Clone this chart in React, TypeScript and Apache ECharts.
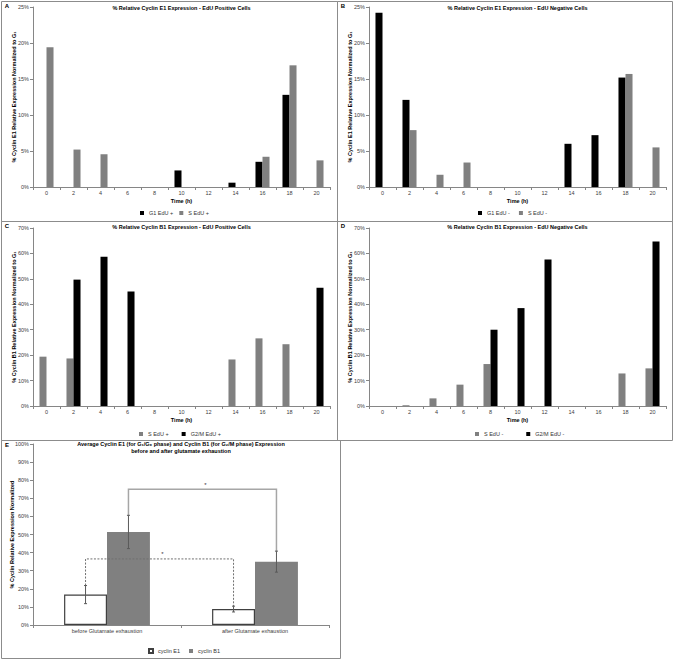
import React, { useEffect, useRef } from 'react';
import * as echarts from 'echarts';

const FONT = '"Liberation Sans", Arial, sans-serif';
const BLACK = '#000000';
const GRAY = '#808080';
const AXIS = '#868686';

// Time points (h)
const times = ['0', '2', '4', '6', '8', '10', '12', '14', '16', '18', '20'];

// Panel A – Cyclin E1, EdU positive (%)
const aG1 = [null, null, null, null, null, 2.3, null, 0.6, 3.5, 12.8, null];
const aS = [19.4, 5.2, 4.55, null, null, null, null, null, 4.2, 16.9, 3.7];
// Panel B – Cyclin E1, EdU negative (%)
const bG1 = [24.2, 12.1, null, null, null, null, null, 6.0, 7.2, 15.2, null];
const bS = [null, 7.9, 1.7, 3.4, null, null, null, null, null, 15.7, 5.5];
// Panel C – Cyclin B1, EdU positive (%)
const cS = [19.4, 18.7, null, null, null, null, null, 18.3, 26.6, 24.3, null];
const cG2M = [null, 49.7, 58.7, 45.0, null, null, null, null, null, null, 46.5];
// Panel D – Cyclin B1, EdU negative (%)
const dS = [null, 0.3, 3.0, 8.4, 16.5, null, null, null, null, 12.8, 14.8];
const dG2M = [null, null, null, null, 30.0, 38.5, 57.6, null, null, null, 64.7];

// Panel E – averages before / after glutamate exhaustion (%)
const eCats = ['before Glutamate exhaustion', 'after Glutamate exhaustion'];
const e1Mean = [16.8, 8.8];
const e1Err = [5.0, 1.6];
const b1Mean = [51.4, 35.0];
const b1Err = [9.2, 5.8];
// significance bracket heights (%)
const b1BracketTop = 75;
const e1BracketTop = 36.5;

const E_GAP = 0.42;

export default function App() {
  const ref = useRef<HTMLDivElement>(null);

  useEffect(() => {
    if (!ref.current) return;
    const chart = echarts.init(ref.current, null, { renderer: 'svg' });

    const grids = [
      { left: 33, top: 7, width: 297, height: 180 },
      { left: 369, top: 7, width: 297, height: 180 },
      { left: 33, top: 228, width: 297, height: 178 },
      { left: 369, top: 228, width: 297, height: 178 },
      { left: 33, top: 444, width: 296, height: 181 },
    ];

    const xAx = (gi: number, data: string[], name: string) => ({
      type: 'category',
      gridIndex: gi,
      data,
      name,
      nameLocation: 'middle',
      nameGap: 11,
      nameMoveOverlap: false,
      nameTextStyle: { fontFamily: FONT, fontSize: 5.5, fontWeight: 'bold', color: '#000' },
      axisLine: { show: true, lineStyle: { color: AXIS, width: 1 } },
      axisTick: { show: true, length: 3, alignWithLabel: false, lineStyle: { color: AXIS } },
      axisLabel: { fontFamily: FONT, fontSize: 5.5, color: '#404040', margin: 3, interval: 0 },
      splitLine: { show: false },
    });

    const yAx = (gi: number, max: number, interval: number, name: string, gap: number) => ({
      type: 'value',
      gridIndex: gi,
      min: 0,
      max,
      interval,
      name,
      nameLocation: 'middle',
      nameGap: gap,
      nameMoveOverlap: false,
      nameTextStyle: { fontFamily: FONT, fontSize: 5.5, fontWeight: 'bold', color: '#000' },
      axisLine: { show: true, lineStyle: { color: AXIS, width: 1 } },
      axisTick: { show: true, length: 3, lineStyle: { color: AXIS } },
      axisLabel: { fontFamily: FONT, fontSize: 5.5, color: '#404040', margin: 4, formatter: '{value}%' },
      splitLine: { show: false },
    });

    const bar = (name: string, gi: number, data: (number | null)[], color: string) => ({
      type: 'bar',
      name,
      xAxisIndex: gi,
      yAxisIndex: gi,
      data,
      barGap: '0%',
      barCategoryGap: '48%',
      itemStyle: { color },
      silent: true,
    });

    const titleAt = (x: number, y: number, text: string) => ({
      text,
      left: x,
      top: y,
      textAlign: 'center',
      padding: 0,
      textStyle: { fontFamily: FONT, fontSize: 5.5, fontWeight: 'bold', color: '#000', lineHeight: 7 },
    });

    const legendAt = (x: number, y: number, data: string[], gap: number) => ({
      left: x,
      top: y,
      data,
      padding: 0,
      itemGap: gap,
      itemWidth: 4,
      itemHeight: 4,
      icon: 'rect',
      selectedMode: false,
      textStyle: { fontFamily: FONT, fontSize: 5.5, color: '#333' },
    });

    const errorData = [
      [0, e1Mean[0], e1Err[0], -1],
      [1, e1Mean[1], e1Err[1], -1],
      [0, b1Mean[0], b1Err[0], 1],
      [1, b1Mean[1], b1Err[1], 1],
    ];

    const errRender = (params: any, api: any) => {
      const cat = api.value(0);
      const mean = api.value(1);
      const err = api.value(2);
      const side = api.value(3);
      const bw = (api.size([1, 0])[0] * (1 - E_GAP)) / 2;
      const cx = api.coord([cat, mean])[0] + (side * bw) / 2;
      const yHi = api.coord([cat, mean + err])[1];
      const yLo = api.coord([cat, mean - err])[1];
      const st = { stroke: '#595959', lineWidth: 1 };
      return {
        type: 'group',
        children: [
          { type: 'line', shape: { x1: cx, y1: yHi, x2: cx, y2: yLo }, style: st },
          { type: 'line', shape: { x1: cx - 1.5, y1: yHi, x2: cx + 1.5, y2: yHi }, style: st },
          { type: 'line', shape: { x1: cx - 1.5, y1: yLo, x2: cx + 1.5, y2: yLo }, style: st },
        ],
      };
    };

    const bracketRender = (stroke: string, width: number, dash: number[] | null) => (params: any, api: any) => {
      const lc = api.value(0), ls = api.value(1), ly = api.value(2);
      const rc = api.value(3), rs = api.value(4), ry = api.value(5);
      const ty = api.value(6);
      const bw = (api.size([1, 0])[0] * (1 - E_GAP)) / 2;
      const xl = api.coord([lc, ly])[0] + (ls * bw) / 2;
      const xr = api.coord([rc, ry])[0] + (rs * bw) / 2;
      const yl = api.coord([lc, ly])[1];
      const yr = api.coord([rc, ry])[1];
      const yt = api.coord([lc, ty])[1];
      return {
        type: 'group',
        children: [
          {
            type: 'polyline',
            shape: { points: [[xl, yl], [xl, yt], [xr, yt], [xr, yr]] },
            style: { stroke, lineWidth: width, fill: 'none', lineDash: dash || undefined },
          },
          {
            type: 'text',
            style: {
              x: (xl + xr) / 2 + 3,
              y: yt - 1.5,
              text: '*',
              fontFamily: FONT,
              fontSize: 6,
              fill: '#333',
              align: 'center',
              verticalAlign: 'bottom',
            },
          },
        ],
      };
    };

    const borders = [
      [1.5, 1.5, 337.5, 221.5],
      [337.5, 1.5, 672.5, 221.5],
      [1.5, 221.5, 337.5, 440.5],
      [337.5, 221.5, 672.5, 440.5],
      [1.5, 440.5, 340.5, 658.5],
    ];
    const letters = [
      ['A', 7, 6],
      ['B', 343, 6],
      ['C', 7, 226],
      ['D', 343, 226],
      ['E', 7, 445],
    ];

    const yNameE1 = '% Cyclin E1 Relative Expression Normalized to G₁';
    const yNameB1 = '% Cyclin B1 Relative Expression Normalized to G₁';

    const option: any = {
      animation: false,
      backgroundColor: '#ffffff',
      textStyle: { fontFamily: FONT },
      title: [
        titleAt(181.5, 4, '% Relative Cyclin E1 Expression - EdU Positive Cells'),
        titleAt(517.5, 4, '% Relative Cyclin E1 Expression - EdU Negative Cells'),
        titleAt(181.5, 223, '% Relative Cyclin B1 Expression - EdU Positive Cells'),
        titleAt(517.5, 223, '% Relative Cyclin B1 Expression - EdU Negative Cells'),
        titleAt(
          181,
          440,
          'Average Cyclin E1 (for G₁/G₀ phase) and Cyclin B1 (for G₂/M phase) Expression\nbefore and after glutamate exhaustion'
        ),
      ],
      legend: [
        legendAt(140, 210, ['G1 EdU +', 'S EdU +'], 6),
        legendAt(478, 210, ['G1 EdU -', 'S EdU -'], 9),
        legendAt(139, 431, ['S EdU +', 'G2/M EdU +'], 13),
        legendAt(475, 431, ['S EdU -', 'G2/M EdU -'], 23),
        legendAt(148, 648, ['cyclin E1', 'cyclin B1'], 9),
      ],
      grid: grids,
      xAxis: [
        xAx(0, times, 'Time (h)'),
        xAx(1, times, 'Time (h)'),
        xAx(2, times, 'Time (h)'),
        xAx(3, times, 'Time (h)'),
        xAx(4, eCats, ''),
      ],
      yAxis: [
        yAx(0, 25, 5, yNameE1, 16),
        yAx(1, 25, 5, yNameE1, 16),
        yAx(2, 70, 10, yNameB1, 16),
        yAx(3, 70, 10, yNameB1, 16),
        yAx(4, 100, 10, '% Cyclin Relative Expression Normalized', 18),
      ],
      series: [
        bar('G1 EdU +', 0, aG1, BLACK),
        bar('S EdU +', 0, aS, GRAY),
        bar('G1 EdU -', 1, bG1, BLACK),
        bar('S EdU -', 1, bS, GRAY),
        bar('S EdU +', 2, cS, GRAY),
        bar('G2/M EdU +', 2, cG2M, BLACK),
        bar('S EdU -', 3, dS, GRAY),
        bar('G2/M EdU -', 3, dG2M, BLACK),
        {
          type: 'bar',
          name: 'cyclin E1',
          xAxisIndex: 4,
          yAxisIndex: 4,
          data: e1Mean,
          barGap: '0%',
          barCategoryGap: '42%',
          itemStyle: { color: '#ffffff', borderColor: '#404040', borderWidth: 1.2 },
          silent: true,
        },
        {
          type: 'bar',
          name: 'cyclin B1',
          xAxisIndex: 4,
          yAxisIndex: 4,
          data: b1Mean,
          barGap: '0%',
          barCategoryGap: '42%',
          itemStyle: { color: GRAY },
          silent: true,
        },
        {
          type: 'custom',
          name: 'errors',
          xAxisIndex: 4,
          yAxisIndex: 4,
          z: 5,
          silent: true,
          encode: { x: 0, y: 1 },
          data: errorData,
          renderItem: errRender,
        },
        {
          type: 'custom',
          name: 'sigB1',
          xAxisIndex: 4,
          yAxisIndex: 4,
          z: 4,
          silent: true,
          encode: { x: 0, y: 6 },
          data: [[0, 1, b1Mean[0] + b1Err[0], 1, 1, b1Mean[1] + b1Err[1], b1BracketTop]],
          renderItem: bracketRender('#a6a6a6', 1.5, null),
        },
        {
          type: 'custom',
          name: 'sigE1',
          xAxisIndex: 4,
          yAxisIndex: 4,
          z: 4,
          silent: true,
          encode: { x: 0, y: 6 },
          data: [[0, -1, e1Mean[0] + e1Err[0], 1, -1, e1Mean[1] + e1Err[1], e1BracketTop]],
          renderItem: bracketRender('#707070', 1, [2, 1.5]),
        },
      ],
      graphic: [
        ...borders.map((b) => ({
          type: 'rect',
          silent: true,
          z: 0,
          shape: { x: b[0], y: b[1], width: b[2] - b[0], height: b[3] - b[1] },
          style: { fill: 'none', stroke: '#8c8c8c', lineWidth: 1 },
        })),
        ...letters.map((l) => ({
          type: 'text',
          silent: true,
          x: l[1] as number,
          y: l[2] as number,
          style: {
            text: l[0] as string,
            fontFamily: FONT,
            fontSize: 6,
            fontWeight: 'bold',
            fill: '#000',
            align: 'center',
            verticalAlign: 'middle',
          },
        })),
      ],
    };

    chart.setOption(option);
    return () => chart.dispose();
  }, []);

  return (
    <div
      ref={ref}
      style={{ position: 'fixed', left: 0, top: 0, width: 675, height: 662, background: '#fff' }}
    />
  );
}
